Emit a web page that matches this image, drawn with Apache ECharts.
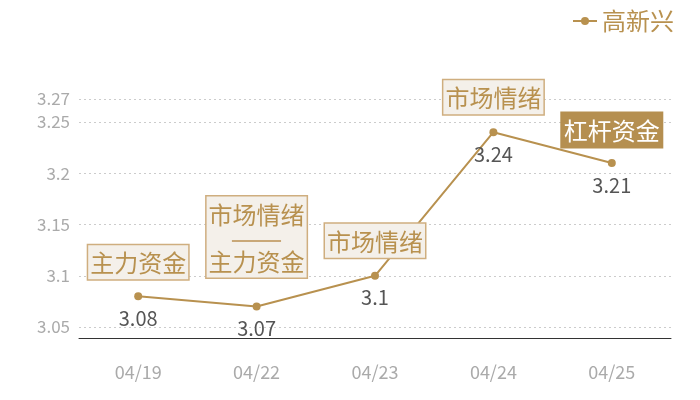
<!DOCTYPE html>
<html><head><meta charset="utf-8">
<script src="https://cdn.jsdelivr.net/npm/echarts@6/dist/echarts.min.js"></script>
<style>html,body{margin:0;padding:0;background:#fff}#c{width:700px;height:400px}</style>
</head><body><div id="c"></div>
<script>
const categories = ['04/19','04/22','04/23','04/24','04/25'];
const seriesName = '高新兴';
const values = [3.08, 3.07, 3.1, 3.24, 3.21];
const tags = ['主力资金', '市场情绪\n{d|——}\n主力资金', '市场情绪', '市场情绪', '杠杆资金'];
const tagFilled = [false, false, false, false, true];
const tagGaps = [17, 29, 18, 18, 16];

const gold = '#b8914f';
const font = '"Noto Sans CJK SC", "Noto Sans", sans-serif';
const yMin = Math.min(...values) * 0.99;
const yMax = Math.max(...values) * 1.01;

const markData = categories.map((c, i) => ({
  coord: [c, values[i]],
  value: tags[i],
  label: {
    distance: tagGaps[i],
    color: tagFilled[i] ? '#fff' : gold,
    backgroundColor: tagFilled[i] ? '#b58f50' : '#f4f0ea',
    borderColor: tagFilled[i] ? '#b58f50' : '#cfae7f',
  }
}));

const chart = echarts.init(document.getElementById('c'));
chart.setOption({
  animation: false,
  textStyle: { fontFamily: font },
  legend: {
    right: 21, top: 4,
    itemWidth: 24, itemHeight: 10, itemGap: 6,
    textStyle: { color: gold, fontSize: 24, fontFamily: font },
    data: [seriesName]
  },
  grid: { left: 79, right: 29, top: 99, bottom: 62 },
  xAxis: {
    type: 'category',
    data: categories,
    axisLine: { lineStyle: { color: '#333', width: 1 } },
    axisTick: { show: false },
    axisLabel: { color: '#aaa', fontSize: 18, margin: 25, fontFamily: font }
  },
  yAxis: {
    type: 'value',
    min: yMin, max: yMax,
    axisLine: { show: false },
    axisTick: { show: false },
    axisLabel: {
      color: '#aaa', fontSize: 17, margin: 9, fontFamily: font,
      showMinLabel: false, showMaxLabel: true,
      formatter: v => String(parseFloat(v.toFixed(2)))
    },
    splitLine: { lineStyle: { color: '#ccc', type: [2, 3] } }
  },
  series: [{
    name: seriesName,
    type: 'line',
    data: values,
    symbol: 'circle',
    symbolSize: 8,
    itemStyle: { color: gold },
    lineStyle: { color: gold, width: 2 },
    label: {
      show: true, position: 'bottom', distance: 8,
      color: '#555', fontSize: 20, fontFamily: font
    },
    markPoint: {
      symbol: 'rect',
      symbolSize: 0,
      itemStyle: { color: 'transparent' },
      label: {
        show: true, position: 'top',
        fontSize: 24, lineHeight: 24, fontFamily: font,
        borderWidth: 1.5, padding: [6, 2, 4, 2],
        formatter: p => p.value,
        rich: { d: { fontSize: 31, lineHeight: 23, color: '#c9a878' } }
      },
      data: markData
    }
  }]
});
</script></body></html>
